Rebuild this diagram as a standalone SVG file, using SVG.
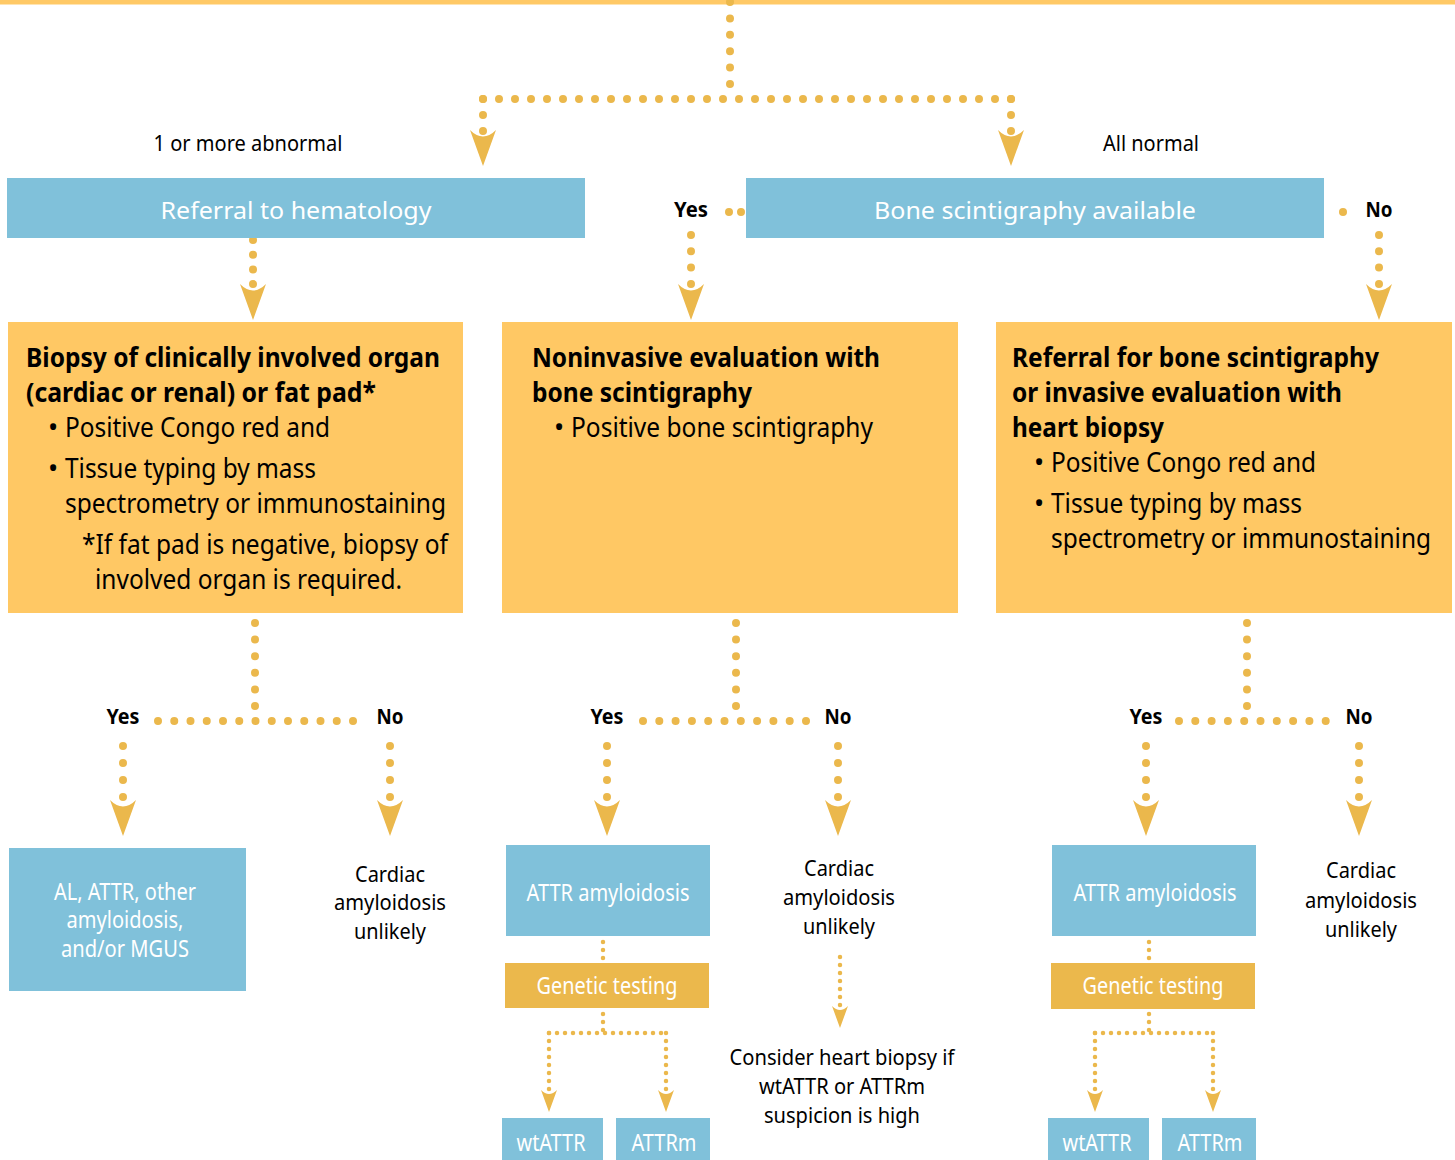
<svg xmlns="http://www.w3.org/2000/svg" xmlns:xlink="http://www.w3.org/1999/xlink" width="1455" height="1160" viewBox="0 0 1455 1160">
<style>
text{font-family:"Noto Sans","Open Sans",sans-serif;}
.box{fill:#FFC864;}
.blue{fill:#80C1DA;}
.gen{fill:#EBB84C;}
.wt{fill:#fff;font-size:23px;}
.hd{font-size:27px;font-weight:700;fill:#000;}
.bd{font-size:27px;fill:#000;}
.lbl{font-size:22px;fill:#000;}
.yn{font-size:22px;font-weight:700;fill:#000;}
.dot{stroke:#EBB84C;stroke-width:8;stroke-linecap:round;fill:none;}
.sdot{stroke:#EBB84C;stroke-width:4.5;stroke-linecap:round;fill:none;stroke-dasharray:0 8;}
.ah{fill:#EBB84C;}
</style>
<defs>
<path id="ah" d="M-13,0 Q0,13 13,0 L0,36 Z"/>
<path id="ahs" d="M-8,0 Q0,8 8,0 L0,22 Z"/>
</defs>
<rect x="0" y="0" width="1455" height="4.5" fill="#FFC966"/>
<g id="connectors">
<line class="dot" x1="730" y1="2" x2="730" y2="84.5" stroke-dasharray="0 16.4"/>
<line class="dot" x1="483" y1="99" x2="1011.5" y2="99" stroke-dasharray="0 16"/>
<line class="dot" x1="483" y1="99" x2="483" y2="131.5" stroke-dasharray="0 16"/>
<line class="dot" x1="1011" y1="99" x2="1011" y2="131.5" stroke-dasharray="0 16"/>
<use href="#ah" x="483" y="130" class="ah"/>
<use href="#ah" x="1011" y="130" class="ah"/>
<line class="dot" x1="253" y1="240" x2="253" y2="284.5" stroke-dasharray="0 14.7"/>
<use href="#ah" x="253" y="284" class="ah"/>
<line class="dot" x1="729" y1="212" x2="741.5" y2="212" stroke-dasharray="0 12"/>
<line class="dot" x1="691" y1="235" x2="691" y2="284.5" stroke-dasharray="0 16.3"/>
<use href="#ah" x="691" y="284" class="ah"/>
<line class="dot" x1="1343" y1="212" x2="1343" y2="212.1" stroke-dasharray="0 13"/>
<line class="dot" x1="1379" y1="235" x2="1379" y2="284.5" stroke-dasharray="0 16.3"/>
<use href="#ah" x="1379" y="284" class="ah"/>
<line class="dot" x1="255" y1="623" x2="255" y2="706.5" stroke-dasharray="0 16.6"/>
<line class="dot" x1="158" y1="721" x2="353.5" y2="721" stroke-dasharray="0 16.25"/>
<line class="dot" x1="123" y1="746" x2="123" y2="797.5" stroke-dasharray="0 17"/>
<use href="#ah" x="123" y="800" class="ah"/>
<line class="dot" x1="390" y1="746" x2="390" y2="797.5" stroke-dasharray="0 17"/>
<use href="#ah" x="390" y="800" class="ah"/>
<line class="dot" x1="736" y1="623" x2="736" y2="706.5" stroke-dasharray="0 16.6"/>
<line class="dot" x1="643" y1="721" x2="806.5" y2="721" stroke-dasharray="0 16.3"/>
<line class="dot" x1="607" y1="746" x2="607" y2="797.5" stroke-dasharray="0 17"/>
<use href="#ah" x="607" y="800" class="ah"/>
<line class="dot" x1="838" y1="746" x2="838" y2="797.5" stroke-dasharray="0 17"/>
<use href="#ah" x="838" y="800" class="ah"/>
<line class="dot" x1="1247" y1="623" x2="1247" y2="706.5" stroke-dasharray="0 16.6"/>
<line class="dot" x1="1179" y1="721" x2="1326.5" y2="721" stroke-dasharray="0 16.3"/>
<line class="dot" x1="1146" y1="746" x2="1146" y2="797.5" stroke-dasharray="0 17"/>
<use href="#ah" x="1146" y="800" class="ah"/>
<line class="dot" x1="1359" y1="746" x2="1359" y2="797.5" stroke-dasharray="0 17"/>
<use href="#ah" x="1359" y="800" class="ah"/>
<line class="sdot" x1="603" y1="942" x2="603" y2="958.5"/>
<line class="sdot" x1="603" y1="1014" x2="603" y2="1030.5"/>
<line class="sdot" x1="549" y1="1033" x2="667" y2="1033" stroke-dasharray="0 8.4"/>
<line class="sdot" x1="549" y1="1033" x2="549" y2="1089.5"/>
<line class="sdot" x1="666" y1="1033" x2="666" y2="1089.5"/>
<use href="#ahs" x="549" y="1090" class="ah"/>
<use href="#ahs" x="666" y="1090" class="ah"/>
<line class="sdot" x1="840" y1="957" x2="840" y2="1005.5"/>
<use href="#ahs" x="840" y="1006" class="ah"/>
<line class="sdot" x1="1149" y1="942" x2="1149" y2="958.5"/>
<line class="sdot" x1="1149" y1="1014" x2="1149" y2="1030.5"/>
<line class="sdot" x1="1095" y1="1033" x2="1213" y2="1033" stroke-dasharray="0 8.4"/>
<line class="sdot" x1="1095" y1="1033" x2="1095" y2="1089.5"/>
<line class="sdot" x1="1213" y1="1033" x2="1213" y2="1089.5"/>
<use href="#ahs" x="1095" y="1090" class="ah"/>
<use href="#ahs" x="1213" y="1090" class="ah"/>
</g>
<g id="labels">
<text class="lbl" x="248" y="151" text-anchor="middle" textLength="189" lengthAdjust="spacingAndGlyphs">1 or more abnormal</text>
<text class="lbl" x="1151" y="151" text-anchor="middle" textLength="96" lengthAdjust="spacingAndGlyphs">All normal</text>
<text class="yn" x="691" y="217" text-anchor="middle" textLength="34" lengthAdjust="spacingAndGlyphs">Yes</text>
<text class="yn" x="1379" y="217" text-anchor="middle" textLength="27" lengthAdjust="spacingAndGlyphs">No</text>
<text class="yn" x="123" y="724" text-anchor="middle" textLength="33" lengthAdjust="spacingAndGlyphs">Yes</text>
<text class="yn" x="390" y="724" text-anchor="middle" textLength="27" lengthAdjust="spacingAndGlyphs">No</text>
<text class="yn" x="607" y="724" text-anchor="middle" textLength="33" lengthAdjust="spacingAndGlyphs">Yes</text>
<text class="yn" x="838" y="724" text-anchor="middle" textLength="27" lengthAdjust="spacingAndGlyphs">No</text>
<text class="yn" x="1146" y="724" text-anchor="middle" textLength="33" lengthAdjust="spacingAndGlyphs">Yes</text>
<text class="yn" x="1359" y="724" text-anchor="middle" textLength="27" lengthAdjust="spacingAndGlyphs">No</text>
</g>
<g id="hematology">
<rect class="blue" x="7" y="178" width="578" height="60"/>
<text class="wt" x="296" y="219" font-size="24" text-anchor="middle" textLength="271" lengthAdjust="spacingAndGlyphs">Referral to hematology</text>
</g>
<g id="bone-available">
<rect class="blue" x="746" y="178" width="578" height="60"/>
<text class="wt" x="1035" y="219" font-size="24" text-anchor="middle" textLength="322" lengthAdjust="spacingAndGlyphs">Bone scintigraphy available</text>
</g>
<g id="biopsy">
<rect class="box" x="8" y="322" width="455" height="291"/>
<text class="hd" x="26" y="367" textLength="414" lengthAdjust="spacingAndGlyphs">Biopsy of clinically involved organ</text>
<text class="hd" x="26" y="402" textLength="350" lengthAdjust="spacingAndGlyphs">(cardiac or renal) or fat pad*</text>
<text class="bd" x="48" y="437">•</text>
<text class="bd" x="65" y="437" textLength="265" lengthAdjust="spacingAndGlyphs">Positive Congo red and</text>
<text class="bd" x="48" y="478">•</text>
<text class="bd" x="65" y="478" textLength="251" lengthAdjust="spacingAndGlyphs">Tissue typing by mass</text>
<text class="bd" x="65" y="513" textLength="381" lengthAdjust="spacingAndGlyphs">spectrometry or immunostaining</text>
<text class="bd" x="82" y="554" textLength="366" lengthAdjust="spacingAndGlyphs">*If fat pad is negative, biopsy of</text>
<text class="bd" x="95" y="589" textLength="307" lengthAdjust="spacingAndGlyphs">involved organ is required.</text>
</g>
<g id="noninvasive">
<rect class="box" x="502" y="322" width="456" height="291"/>
<text class="hd" x="532" y="367" textLength="348" lengthAdjust="spacingAndGlyphs">Noninvasive evaluation with</text>
<text class="hd" x="532" y="402" textLength="220" lengthAdjust="spacingAndGlyphs">bone scintigraphy</text>
<text class="bd" x="554" y="437">•</text>
<text class="bd" x="571" y="437" textLength="302" lengthAdjust="spacingAndGlyphs">Positive bone scintigraphy</text>
</g>
<g id="referral-bone">
<rect class="box" x="996" y="322" width="456" height="291"/>
<text class="hd" x="1012" y="367" textLength="367" lengthAdjust="spacingAndGlyphs">Referral for bone scintigraphy</text>
<text class="hd" x="1012" y="402" textLength="330" lengthAdjust="spacingAndGlyphs">or invasive evaluation with</text>
<text class="hd" x="1012" y="437" textLength="152" lengthAdjust="spacingAndGlyphs">heart biopsy</text>
<text class="bd" x="1034" y="472">•</text>
<text class="bd" x="1051" y="472" textLength="265" lengthAdjust="spacingAndGlyphs">Positive Congo red and</text>
<text class="bd" x="1034" y="513">•</text>
<text class="bd" x="1051" y="513" textLength="251" lengthAdjust="spacingAndGlyphs">Tissue typing by mass</text>
<text class="bd" x="1051" y="548" textLength="380" lengthAdjust="spacingAndGlyphs">spectrometry or immunostaining</text>
</g>
<g id="al-attr">
<rect class="blue" x="9" y="848" width="237" height="143"/>
<text class="wt" x="125" y="900" font-size="22" text-anchor="middle" textLength="142" lengthAdjust="spacingAndGlyphs">AL, ATTR, other</text>
<text class="wt" x="125" y="928" font-size="22" text-anchor="middle" textLength="117" lengthAdjust="spacingAndGlyphs">amyloidosis,</text>
<text class="wt" x="125" y="957" font-size="22" text-anchor="middle" textLength="128" lengthAdjust="spacingAndGlyphs">and/or MGUS</text>
</g>
<g id="unlikely-1">
<text class="lbl" x="390" y="882" text-anchor="middle" textLength="70" lengthAdjust="spacingAndGlyphs">Cardiac</text>
<text class="lbl" x="390" y="910" text-anchor="middle" textLength="112" lengthAdjust="spacingAndGlyphs">amyloidosis</text>
<text class="lbl" x="390" y="939" text-anchor="middle" textLength="72" lengthAdjust="spacingAndGlyphs">unlikely</text>
</g>
<g id="attr-2">
<rect class="blue" x="506" y="845" width="204" height="91"/>
<text class="wt" x="608" y="901" text-anchor="middle" textLength="163" lengthAdjust="spacingAndGlyphs">ATTR amyloidosis</text>
</g>
<g id="genetic-2">
<rect class="gen" x="505" y="963" width="204" height="45"/>
<text class="wt" x="607" y="994" text-anchor="middle" textLength="141" lengthAdjust="spacingAndGlyphs">Genetic testing</text>
</g>
<g id="wtattr-2">
<rect class="blue" x="502" y="1118" width="101" height="42"/>
<text class="wt" x="551" y="1151" text-anchor="middle" textLength="69" lengthAdjust="spacingAndGlyphs">wtATTR</text>
</g>
<g id="attrm-2">
<rect class="blue" x="616" y="1118" width="94" height="42"/>
<text class="wt" x="664" y="1151" text-anchor="middle" textLength="65" lengthAdjust="spacingAndGlyphs">ATTRm</text>
</g>
<g id="unlikely-2">
<text class="lbl" x="839" y="876" text-anchor="middle" textLength="70" lengthAdjust="spacingAndGlyphs">Cardiac</text>
<text class="lbl" x="839" y="905" text-anchor="middle" textLength="112" lengthAdjust="spacingAndGlyphs">amyloidosis</text>
<text class="lbl" x="839" y="934" text-anchor="middle" textLength="72" lengthAdjust="spacingAndGlyphs">unlikely</text>
</g>
<g id="consider">
<text class="lbl" x="842" y="1065" text-anchor="middle" textLength="225" lengthAdjust="spacingAndGlyphs">Consider heart biopsy if</text>
<text class="lbl" x="842" y="1094" text-anchor="middle" textLength="166" lengthAdjust="spacingAndGlyphs">wtATTR or ATTRm</text>
<text class="lbl" x="842" y="1123" text-anchor="middle" textLength="156" lengthAdjust="spacingAndGlyphs">suspicion is high</text>
</g>
<g id="attr-3">
<rect class="blue" x="1052" y="845" width="204" height="91"/>
<text class="wt" x="1155" y="901" text-anchor="middle" textLength="163" lengthAdjust="spacingAndGlyphs">ATTR amyloidosis</text>
</g>
<g id="genetic-3">
<rect class="gen" x="1051" y="963" width="204" height="46"/>
<text class="wt" x="1153" y="994" text-anchor="middle" textLength="141" lengthAdjust="spacingAndGlyphs">Genetic testing</text>
</g>
<g id="wtattr-3">
<rect class="blue" x="1048" y="1118" width="101" height="42"/>
<text class="wt" x="1097" y="1151" text-anchor="middle" textLength="69" lengthAdjust="spacingAndGlyphs">wtATTR</text>
</g>
<g id="attrm-3">
<rect class="blue" x="1162" y="1118" width="94" height="42"/>
<text class="wt" x="1210" y="1151" text-anchor="middle" textLength="65" lengthAdjust="spacingAndGlyphs">ATTRm</text>
</g>
<g id="unlikely-3">
<text class="lbl" x="1361" y="878" text-anchor="middle" textLength="70" lengthAdjust="spacingAndGlyphs">Cardiac</text>
<text class="lbl" x="1361" y="908" text-anchor="middle" textLength="112" lengthAdjust="spacingAndGlyphs">amyloidosis</text>
<text class="lbl" x="1361" y="937" text-anchor="middle" textLength="72" lengthAdjust="spacingAndGlyphs">unlikely</text>
</g>
</svg>
